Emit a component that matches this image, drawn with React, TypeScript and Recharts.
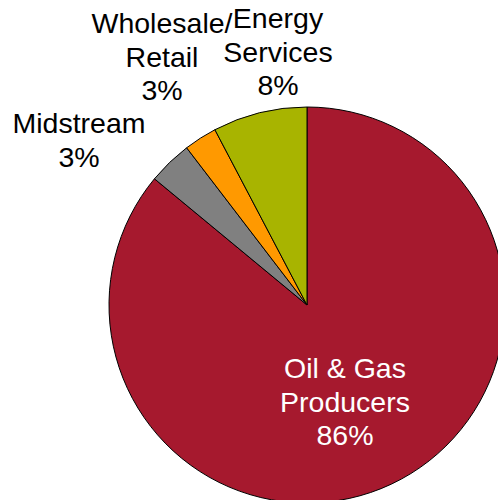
import { Cell, Pie, PieChart } from 'recharts'

const categories = ['Oil & Gas Producers', 'Midstream', 'Wholesale/Retail', 'Energy Services']
const shares = [86.0, 3.6, 2.7, 7.7]
const labelLines = [['Oil & Gas', 'Producers'], ['Midstream'], ['Wholesale/', 'Retail'], ['Energy', 'Services']]
const percentLabels = ['86%', '3%', '3%', '8%']

const colors = ['#A6192E', '#808080', '#FF9900', '#A8B400']
const textColors = ['#FFFFFF', '#000000', '#000000', '#000000']
// where each label block sits, relative to the pie centre (x centre, first baseline)
const labelOffsets = [
  { dx: 38, dy: 73 },
  { dx: -228, dy: -172 },
  { dx: -145, dy: -272 },
  { dx: -29, dy: -277 },
]
const lineHeight = 33.5

const data = categories.map((name, i) => ({ name, value: shares[i] }))

function renderLabel(props: any) {
  const { cx, cy, index } = props
  const off = labelOffsets[index]
  const x = cx + off.dx
  const lines = [...labelLines[index], percentLabels[index]]
  return (
    <text
      key={`label-${index}`}
      x={x}
      y={cy + off.dy}
      textAnchor="middle"
      fill={textColors[index]}
      fontSize={28.5}
      fontFamily="'Liberation Sans', Arial, sans-serif"
    >
      {lines.map((line, i) => (
        <tspan key={i} x={x} dy={i === 0 ? 0 : lineHeight}>
          {line}
        </tspan>
      ))}
    </text>
  )
}

export default function App() {
  return (
    <div style={{ position: 'absolute', left: 0, top: 0, width: 498, height: 500, background: '#fff' }}>
      <PieChart width={498} height={500} margin={{ top: 0, right: 0, bottom: 0, left: 0 }}>
        <Pie
          data={data}
          dataKey="value"
          nameKey="name"
          cx={307}
          cy={305}
          outerRadius={198}
          startAngle={90}
          endAngle={-270}
          stroke="#000000"
          strokeWidth={1}
          label={renderLabel}
          labelLine={false}
          isAnimationActive={false}
        >
          {data.map((d, i) => (
            <Cell key={d.name} fill={colors[i]} />
          ))}
        </Pie>
      </PieChart>
    </div>
  )
}
